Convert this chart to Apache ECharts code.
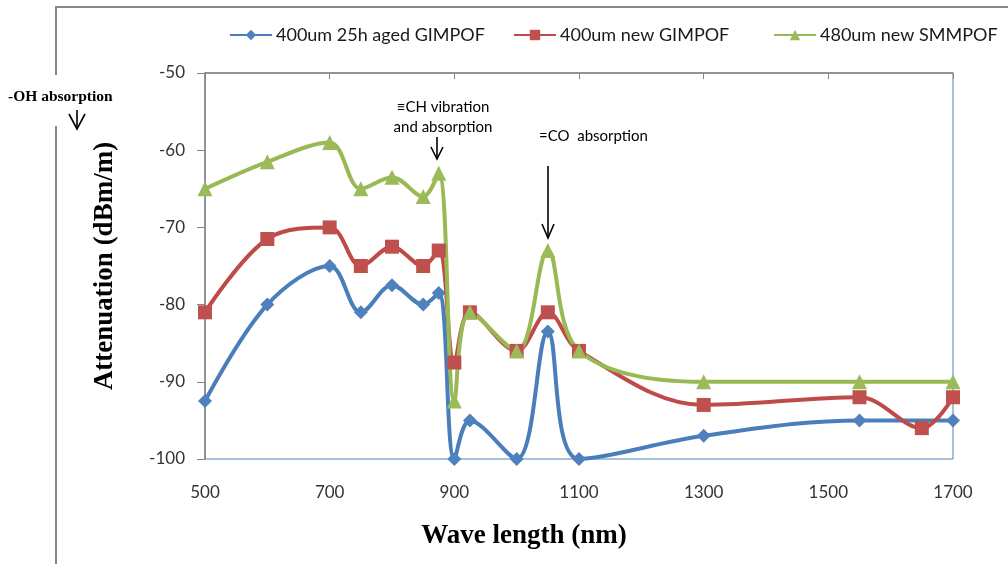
<!DOCTYPE html>
<html>
<head>
<meta charset="utf-8">
<script src="https://cdn.jsdelivr.net/npm/echarts@6/dist/echarts.min.js"></script>
<style>
html,body{margin:0;padding:0;background:#fff;}
#main{width:1008px;height:564px;}
</style>
</head>
<body>
<div id="main"></div>
<script>
// wavelengths (nm)
var wl = [500, 600, 700, 750, 800, 850, 875, 900, 925, 1000, 1050, 1100, 1300, 1550, 1700];
var wlRed = [500, 600, 700, 750, 800, 850, 875, 900, 925, 1000, 1050, 1100, 1300, 1550, 1650, 1700];
// attenuation (dBm/m)
var agedGim = [-92.5, -80, -75, -81, -77.5, -80, -78.5, -100, -95, -100, -83.5, -100, -97, -95, -95];
var newGim = [-81, -71.5, -70, -75, -72.5, -75, -73, -87.5, -81, -86, -81, -86, -93, -92, -96, -92];
var newSmm = [-65, -61.5, -59, -65, -63.5, -66, -63, -92.5, -81, -86, -73, -86, -90, -90, -90];
var names = ['400um 25h aged GIMPOF', '400um new GIMPOF', '480um new SMMPOF'];
var xTicks = [500, 700, 900, 1100, 1300, 1500, 1700];

function pairs(xs, ys) {
	var out = [];
	for (var i = 0; i < xs.length; i++) out.push([xs[i], ys[i]]);
	return out;
}

var lblFont = 'Lato, "Open Sans", sans-serif';
var serif = '"Liberation Serif", "DejaVu Serif", serif';
var myChart = echarts.init(document.getElementById('main'));

// arrow: vertical line with an open head at the bottom
function arrow(x, y1, y2, hw, hh) {
	return {
		type: 'group',
		children: [
			{ type: 'line', shape: { x1: x, y1: y1, x2: x, y2: y2 }, style: { stroke: '#000', lineWidth: 1.6 } },
			{ type: 'polyline', shape: { points: [[x - hw, y2 - hh], [x, y2], [x + hw, y2 - hh]] }, style: { stroke: '#000', lineWidth: 1.6, fill: null } }
		]
	};
}

// one legend box per series, so each can sit where the original has it
function legendAt(left, name) {
	return {
		left: left,
		top: 21,
		itemWidth: 42,
		itemHeight: 13,
		itemGap: 0,
		textStyle: { fontFamily: lblFont, fontSize: 18, color: '#1a1a1a', padding: [0, 0, 0, -1] },
		data: [name]
	};
}

var option = {
	animation: false,
	backgroundColor: '#fff',
	legend: [
		legendAt(224, names[0]),
		legendAt(508, names[1]),
		legendAt(768, names[2])
	],
	grid: {
		left: 205,
		right: 55,
		top: 73,
		bottom: 105,
		show: true,
		borderColor: '#4F81BD',
		borderWidth: 1
	},
	xAxis: [
		{
			type: 'value',
			position: 'top',
			min: 500,
			max: 1700,
			interval: 200,
			axisLine: { show: true, lineStyle: { color: '#868686', width: 1.5 } },
			axisTick: { show: true, inside: true, length: 6, lineStyle: { color: '#868686' } },
			axisLabel: { show: false },
			splitLine: { show: false }
		},
		{
			type: 'value',
			position: 'bottom',
			min: 500,
			max: 1700,
			interval: 200,
			axisLine: { show: false },
			axisTick: { show: false },
			axisLabel: {
				margin: 25,
				fontFamily: lblFont, fontSize: 17, color: '#333',
				formatter: function (v) { return xTicks.indexOf(v) >= 0 ? v : ''; }
			},
			splitLine: { show: false }
		}
	],
	yAxis: {
		type: 'value',
		min: -100,
		max: -50,
		interval: 10,
		name: 'Attenuation (dBm/m)',
		nameLocation: 'middle',
		nameGap: 86,
		nameTextStyle: { fontFamily: serif, fontWeight: 'bold', fontSize: 27, color: '#000' },
		axisLine: { show: true, lineStyle: { color: '#868686', width: 1.5 } },
		axisTick: { show: true, inside: false, length: 8, lineStyle: { color: '#868686' } },
		axisLabel: { margin: 20, fontFamily: lblFont, fontSize: 17, color: '#333' },
		splitLine: { show: false }
	},
	series: [
		{
			name: names[0],
			type: 'line',
			xAxisIndex: 0,
			smooth: 0.35,
			symbol: 'diamond',
			symbolSize: 14,
			clip: true,
			lineStyle: { width: 4, color: '#4A7EBB' },
			itemStyle: { color: '#4F81BD' },
			data: pairs(wl, agedGim)
		},
		{
			name: names[1],
			type: 'line',
			xAxisIndex: 0,
			smooth: 0.35,
			symbol: 'rect',
			symbolSize: 14,
			clip: true,
			lineStyle: { width: 4, color: '#BE4B48' },
			itemStyle: { color: '#C0504D' },
			data: pairs(wlRed, newGim)
		},
		{
			name: names[2],
			type: 'line',
			xAxisIndex: 0,
			smooth: 0.35,
			symbol: 'triangle',
			symbolSize: 15,
			clip: true,
			lineStyle: { width: 4, color: '#98B954' },
			itemStyle: { color: '#9BBB59' },
			data: pairs(wl, newSmm)
		}
	],
	graphic: [
		// outer frame (broken where the -OH note sits)
		{ type: 'line', shape: { x1: 55, y1: 7, x2: 1008, y2: 7 }, style: { stroke: '#868686', lineWidth: 2 } },
		{ type: 'line', shape: { x1: 56, y1: 7, x2: 56, y2: 75 }, style: { stroke: '#868686', lineWidth: 2 } },
		{ type: 'line', shape: { x1: 56, y1: 126, x2: 56, y2: 564 }, style: { stroke: '#868686', lineWidth: 2 } },
		{
			type: 'text', left: 8, top: 89,
			style: { text: '-OH absorption', fontFamily: serif, fontWeight: 'bold', fontSize: 15.5, fill: '#000' }
		},
		arrow(77, 110, 129, 8, 15),
		{
			type: 'text', x: 443, y: 117,
			style: { text: '\u2261CH vibration\nand absorption', align: 'center', verticalAlign: 'middle', lineHeight: 20, fontFamily: lblFont, fontSize: 15, fill: '#000' }
		},
		arrow(437, 137, 159, 6, 12),
		{
			type: 'text', left: 539, top: 129,
			style: { text: '=CO  absorption', fontFamily: lblFont, fontSize: 15, fill: '#000' }
		},
		arrow(548, 166, 238, 6, 14),
		{
			type: 'text', x: 524, y: 536,
			style: { text: 'Wave length (nm)', align: 'center', verticalAlign: 'middle', fontFamily: serif, fontWeight: 'bold', fontSize: 27, fill: '#000' }
		}
	]
};
myChart.setOption(option);
</script>
</body>
</html>
